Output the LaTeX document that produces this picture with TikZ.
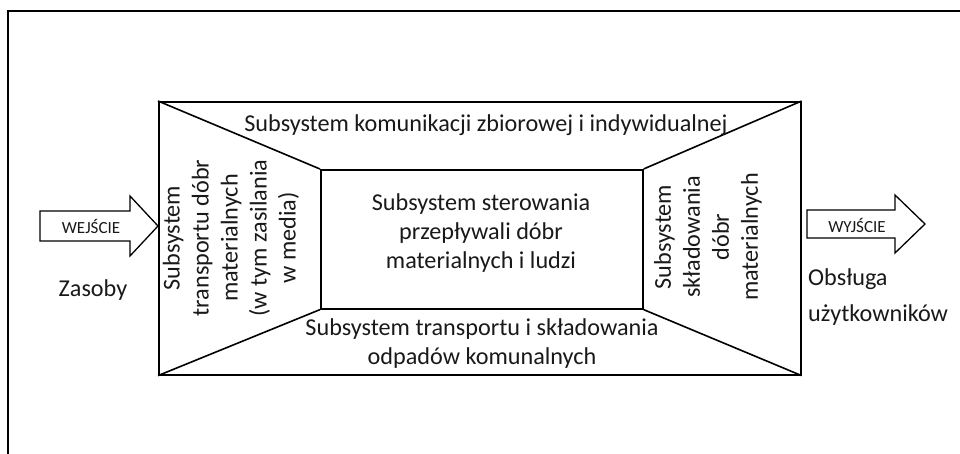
\documentclass[tikz,border=0pt]{standalone}
\usepackage{fontspec}
\setmainfont{Carlito}
\begin{document}
\begin{tikzpicture}[x=1pt,y=-1pt,
  lbl/.style={inner sep=0pt,font=\fontsize{24.2}{29}\selectfont,text=black!90},
  small/.style={inner sep=0pt,font=\fontsize{17}{20}\selectfont,text=black!90},
  boxline/.style={line width=1.6pt},
  arrowline/.style={line width=1.3pt,line join=miter}]
\useasboundingbox (0,0) rectangle (960,453);
% outer frame (partial)
\draw[line width=1.4pt] (8,460) -- (8,11) -- (970,11);
% main boxes
\node[draw,boxline,anchor=north west,minimum width=642pt,minimum height=273pt,inner sep=0pt] (big) at (158,101) {};
\node[draw,boxline,anchor=north west,minimum width=322pt,minimum height=139pt,inner sep=0pt] (inner) at (320,169) {};
\draw[boxline] (big.north west) -- (inner.north west);
\draw[boxline] (big.north east) -- (inner.north east);
\draw[boxline] (big.south west) -- (inner.south west);
\draw[boxline] (big.south east) -- (inner.south east);
% texts
\node[lbl] (top) at (486,125) {Subsystem komunikacji zbiorowej i indywidualnej};
\node[lbl,align=center] (center) at (481,233) {Subsystem sterowania\\przepływali dóbr\\materialnych i ludzi};
\node[lbl,align=center] (bottom) at (482,344) {Subsystem transportu i składowania\\odpadów komunalnych};
\node[lbl,align=center,rotate=90] (left) at (231,238) {Subsystem\\transportu dóbr\\materialnych\\(w tym zasilania\\w media)};
\node[lbl,align=center,rotate=90] (right) at (708,237) {Subsystem\\składowania\\dóbr\\materialnych};
\node[lbl] (zasoby) at (93,290) {Zasoby};
\node[lbl,font=\fontsize{24.2}{36}\selectfont,align=left,anchor=west] (obsl) at (808,297) {Obsługa\\użytkowników};
% input arrow
\coordinate (inTip) at (big.west |- 0,226);
\draw[arrowline] (40,211) -- (130,211) -- (130,196) -- (inTip) -- (130,256) -- (130,241) -- (40,241) -- cycle;
\node[small] (wej) at (91,226) {WEJŚCIE};
% output arrow
\coordinate (outTip) at (925,224);
\draw[arrowline] (807,210) -- (895,210) -- (895,195) -- (outTip) -- (895,253) -- (895,238) -- (807,238) -- cycle;
\node[small] (wyj) at (857,225) {WYJŚCIE};
\end{tikzpicture}
\end{document}
